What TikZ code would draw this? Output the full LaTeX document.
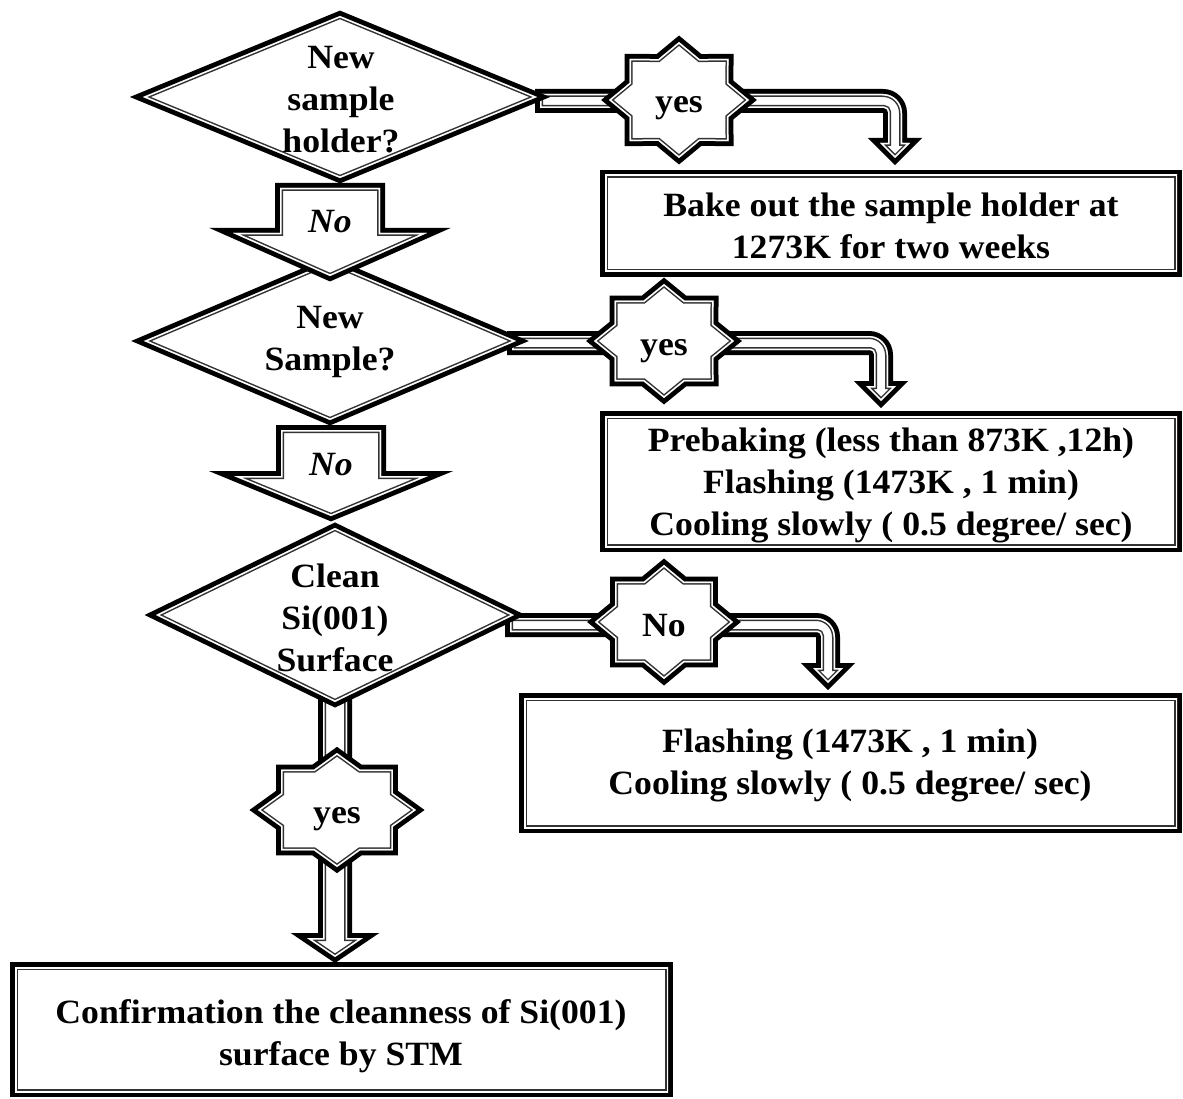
\documentclass[tikz,border=0pt]{standalone}
\usepackage{fontspec}
\setmainfont{Liberation Serif}[FakeStretch=1.05]

% Closed outline drawn as a heavy black rule outside, a thin white gap
% and a fine dark rule just inside the boundary.
\newcommand\ringshape[1]{%
  \draw[line width=10pt, line join=miter] #1;
  \fill[white] #1;
  \begin{scope}
    \clip #1;
    \draw[line width=6pt, black!80] #1;
    \draw[line width=3pt, white] #1;
  \end{scope}}

% Decision diamond: centre x, centre y, half width, half height
\newcommand\diapath[4]{(#1-#3,#2) -- (#1,#2-#4) -- (#1+#3,#2) -- (#1,#2+#4) -- cycle}

% Straight block arrow pointing down: centre x, top y, shaft half width,
% shoulder y, head half width, tip y
\newcommand\downpath[6]{(#1-#3,#2) -- (#1+#3,#2) -- (#1+#3,#4) -- (#1+#5,#4) -- (#1,#6) -- (#1-#5,#4) -- (#1-#3,#4) -- cycle}

% Block arrow running right, then bending down: start x, shaft y,
% vertical shaft x, shoulder y, tip y
\newcommand\bentpath[5]{(#1,#2-7) -- (#3-12,#2-7) .. controls (#3-1.5,#2-7) and (#3+7,#2+1.5) .. (#3+7,#2+12) -- (#3+7,#4) -- (#3+15,#4) -- (#3,#5) -- (#3-15,#4) -- (#3-7,#4) -- (#3-7,#2+11) .. controls (#3-7,#2+8.8) and (#3-8.8,#2+7) .. (#3-11,#2+7) -- (#1,#2+7) -- cycle}

% Eight-pointed label star: centre x, centre y, x radius, y radius
\newcommand\starshape[4]{%
  \begin{scope}[shift={(#1,#2)}, x=#3pt, y=#4pt]
    \ringshape{(0:1) -- (22.5:.765) -- (45:1) -- (67.5:.765) -- (90:1) -- (112.5:.765) -- (135:1) -- (157.5:.765) -- (180:1) -- (202.5:.765) -- (225:1) -- (247.5:.765) -- (270:1) -- (292.5:.765) -- (315:1) -- (337.5:.765) -- cycle}
  \end{scope}}

\begin{document}
\begin{tikzpicture}[x=1pt, y=-1pt,
  txt/.style={font=\fontsize{34}{42}\selectfont\bfseries, align=center, inner sep=0pt},
  itxt/.style={font=\fontsize{34}{42}\selectfont\bfseries\itshape, inner sep=0pt}]
\useasboundingbox[fill=white] (0,0) rectangle (1183,1099);

% branch arrows leaving the decisions
\ringshape{\bentpath{540}{101}{895}{143}{158}}
\ringshape{\bentpath{512}{343}{881}{386}{401}}
\ringshape{\bentpath{510}{625}{828}{668}{683}}
\ringshape{\downpath{335}{700}{12}{938}{28}{957}}

% decisions and the arrows between them
\ringshape{\diapath{335}{615}{179}{87}}
\ringshape{\downpath{331}{430}{50}{476}{97}{516}}
\ringshape{\diapath{330}{341}{186}{79}}
\ringshape{\downpath{330}{188}{50}{233}{97}{276}}
\ringshape{\diapath{340}{97}{197}{81}}

% answer stars
\starshape{679}{100}{70}{58}
\starshape{664}{341}{70}{57}
\starshape{664}{622}{69}{57}
\starshape{337}{810}{79}{57}

% process boxes
\ringshape{(605,175) rectangle (1177,272)}
\ringshape{(605,416) rectangle (1177,547)}
\ringshape{(524,698) rectangle (1177,828)}
\ringshape{(15,967) rectangle (668,1092)}

% texts
\node[txt] (q1) at (341,100) {New\\sample\\holder?};
\node[txt] (q2) at (330,342) {New\\Sample?};
\node[txt] (q3) at (335,618) {Clean\\Si(001)\\Surface};
\node[itxt] (n1) at (330,222) {No};
\node[itxt] (n2) at (331,465) {No};
\node[txt] (s1) at (679,108) {yes};
\node[txt] (s2) at (664,351) {yes};
\node[txt] (s3) at (664,626) {No};
\node[txt] (s4) at (337,819) {yes};
\node[txt] (b1) at (891,226) {Bake out the sample holder at\\1273K for two weeks};
\node[txt] (b2) at (891,485) {Prebaking (less than 873K ,12h)\\Flashing (1473K , 1 min)\\Cooling slowly ( 0.5 degree/ sec)};
\node[txt] (b3) at (850,765) {Flashing (1473K , 1 min)\\Cooling slowly ( 0.5 degree/ sec)};
\node[txt] (b4) at (341,1036) {Confirmation the cleanness of Si(001)\\surface by STM};
\end{tikzpicture}
\end{document}
